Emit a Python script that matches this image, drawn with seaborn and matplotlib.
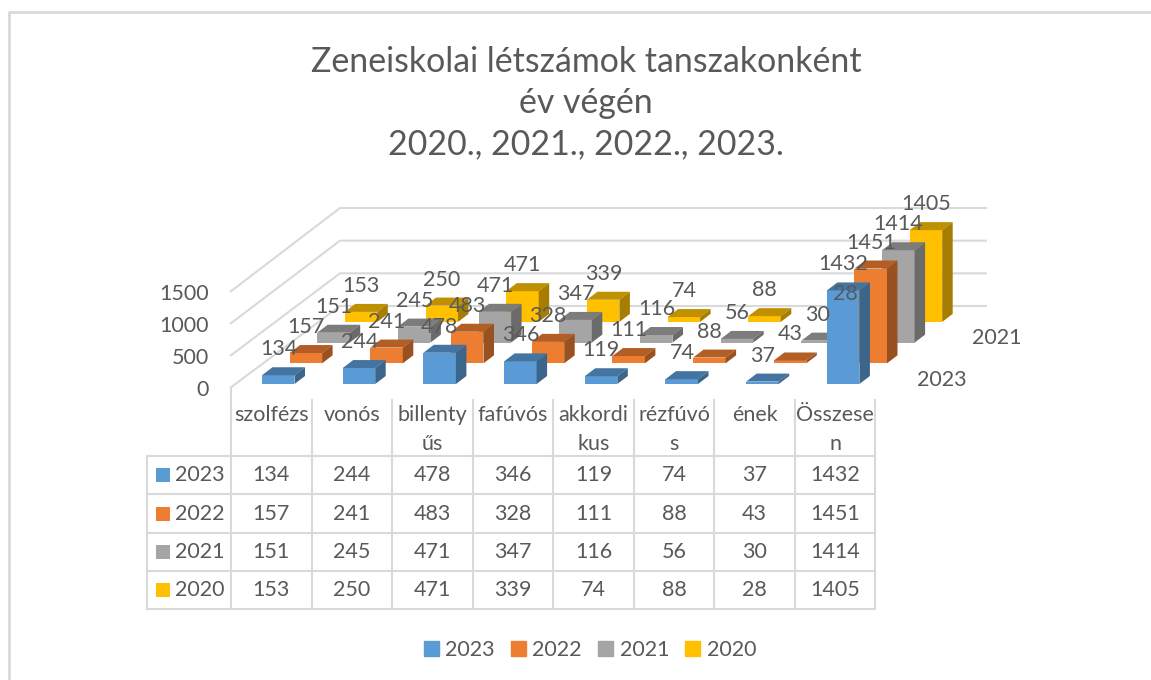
import matplotlib
matplotlib.use("Agg")
import matplotlib.pyplot as plt
from matplotlib.patches import Patch
import numpy as np
import pandas as pd
import seaborn as sns

# ---- data ----
categories = ["szolfézs", "vonós", "billenty\nűs", "fafúvós", "akkordi\nkus", "rézfúvó\ns", "ének", "Összese\nn"]
years = ["2023", "2022", "2021", "2020"]
v2023 = [134, 244, 478, 346, 119, 74, 37, 1432]
v2022 = [157, 241, 483, 328, 111, 88, 43, 1451]
v2021 = [151, 245, 471, 347, 116, 56, 30, 1414]
v2020 = [153, 250, 471, 339, 74, 88, 28, 1405]
series = [v2023, v2022, v2021, v2020]
colors = ["#5B9BD5", "#ED7D31", "#A5A5A5", "#FFC000"]
ticks = [0, 500, 1000, 1500]
title = "Zeneiskolai létszámok tanszakonként\név végén\n2020., 2021., 2022., 2023."

sns.set_theme(style="white")
plt.rcParams["font.family"] = ["Lato", "DejaVu Sans"]
TXT = "#595959"
GRID = "#D9D9D9"
FS = 15.5

W, H = 1151, 680
fig = plt.figure(figsize=(W / 100, H / 100), dpi=100)
ax = fig.add_axes([0, 0, 1, 1])

# oblique projection, in figure pixels
X0, Y0 = 262.0, 384.0      # front-left foot of first bar
CAT = 80.7                 # per category
DX, DY = 27.6, 20.7        # per depth slot
K = 98 / 1500              # per unit of value
BW = 32.5                  # bar width
BDX, BDY = 10.5, 8.0       # bar depth

def darker(c, f):
    return tuple(np.array(matplotlib.colors.to_rgb(c)) * f)

# walls and gridlines
for t in ticks:
    yb = 306 - t * K
    yf = 388 - t * K * 0.98
    ax.plot([230, 340, 987], [yf, yb, yb], color=GRID, lw=1.5, zorder=0.5, solid_capstyle="butt")
    ax.text(209, yf + (1.5 if t == 0 else 2.5), str(t), ha="right", va="center", color=TXT, fontsize=FS)

# bars, back series first
for d in range(3, -1, -1):
    vals = np.array(series[d], dtype=float)
    left = X0 + np.arange(len(vals)) * CAT + d * DX
    base = Y0 - d * DY
    z = 2 + (3 - d)
    df = pd.DataFrame({"x": left + BW / 2, "h": -vals * K})
    sns.barplot(data=df, x="x", y="h", native_scale=True, width=BW / CAT, bottom=base,
                color=colors[d], saturation=1, errorbar=None, ax=ax, zorder=z, linewidth=0)
    for xl, v in zip(left, vals):
        top = base - v * K
        ax.fill([xl, xl + BDX, xl + BW + BDX, xl + BW], [top, top - BDY, top - BDY, top],
                color=darker(colors[d], 0.75), lw=0, zorder=z + 0.1)
        ax.fill([xl + BW, xl + BW + BDX, xl + BW + BDX, xl + BW],
                [top, top - BDY, base - BDY, base],
                color=darker(colors[d], 0.65), lw=0, zorder=z + 0.1)

# data labels over every bar
for d in range(3, -1, -1):
    for i, v in enumerate(series[d]):
        xl = X0 + i * CAT + d * DX
        top = Y0 - d * DY - v * K
        ax.text(xl + 16.5, top - 26, str(v), ha="center", va="center", color=TXT, fontsize=FS, zorder=10)

# depth axis labels
ax.text(942, 380, years[0], ha="center", va="center", color=TXT, fontsize=FS)
ax.text(997, 338, years[2], ha="center", va="center", color=TXT, fontsize=FS)

# data table
col_x = 231 + np.arange(len(categories) + 1) * 80.55
row_y = [456, 494, 533, 571, 609]
line = dict(color=GRID, lw=1.5, zorder=1, solid_capstyle="projecting")
for cx in col_x:
    ax.plot([cx, cx], [388 if cx == col_x[0] else 400, row_y[-1]], **line)
ax.plot([147, 147], [row_y[0], row_y[-1]], **line)
for ry in row_y:
    ax.plot([147, col_x[-1]], [ry, ry], **line)
for i, c in enumerate(categories):
    cx = (col_x[i] + col_x[i + 1]) / 2
    for j, part in enumerate(c.split("\n")):
        ax.text(cx, 415 + j * 28.5, part, ha="center", va="center", color=TXT, fontsize=FS)
for r, (y, vals) in enumerate(zip(years, series)):
    cy = (row_y[r] + row_y[r + 1]) / 2
    ax.fill([156, 170, 170, 156], [cy - 7, cy - 7, cy + 7, cy + 7], color=colors[r], lw=0)
    ax.text(175, cy, y, ha="left", va="center", color=TXT, fontsize=FS)
    for i, v in enumerate(vals):
        ax.text((col_x[i] + col_x[i + 1]) / 2, cy, str(v), ha="center", va="center", color=TXT, fontsize=FS)

# title and chart border
ax.text(586, 103, title, ha="center", va="center", color=TXT, fontsize=24.4, linespacing=1.36)
ax.plot([9, 9, W], [H, 12, 12], color=GRID, lw=2, zorder=0.5)

# legend
handles = [Patch(color=c, label=y) for c, y in zip(colors, years)]
ax.legend(handles=handles, ncol=4, loc="center", bbox_to_anchor=(590 / W, 1 - 650 / H), frameon=False,
          fontsize=FS, labelcolor=TXT, handlelength=0.7, handleheight=0.7, handletextpad=0.3, columnspacing=0.75)

ax.set_xlim(0, W)
ax.set_ylim(H, 0)
ax.axis("off")
fig.savefig("out.png", dpi=100, facecolor="white")
